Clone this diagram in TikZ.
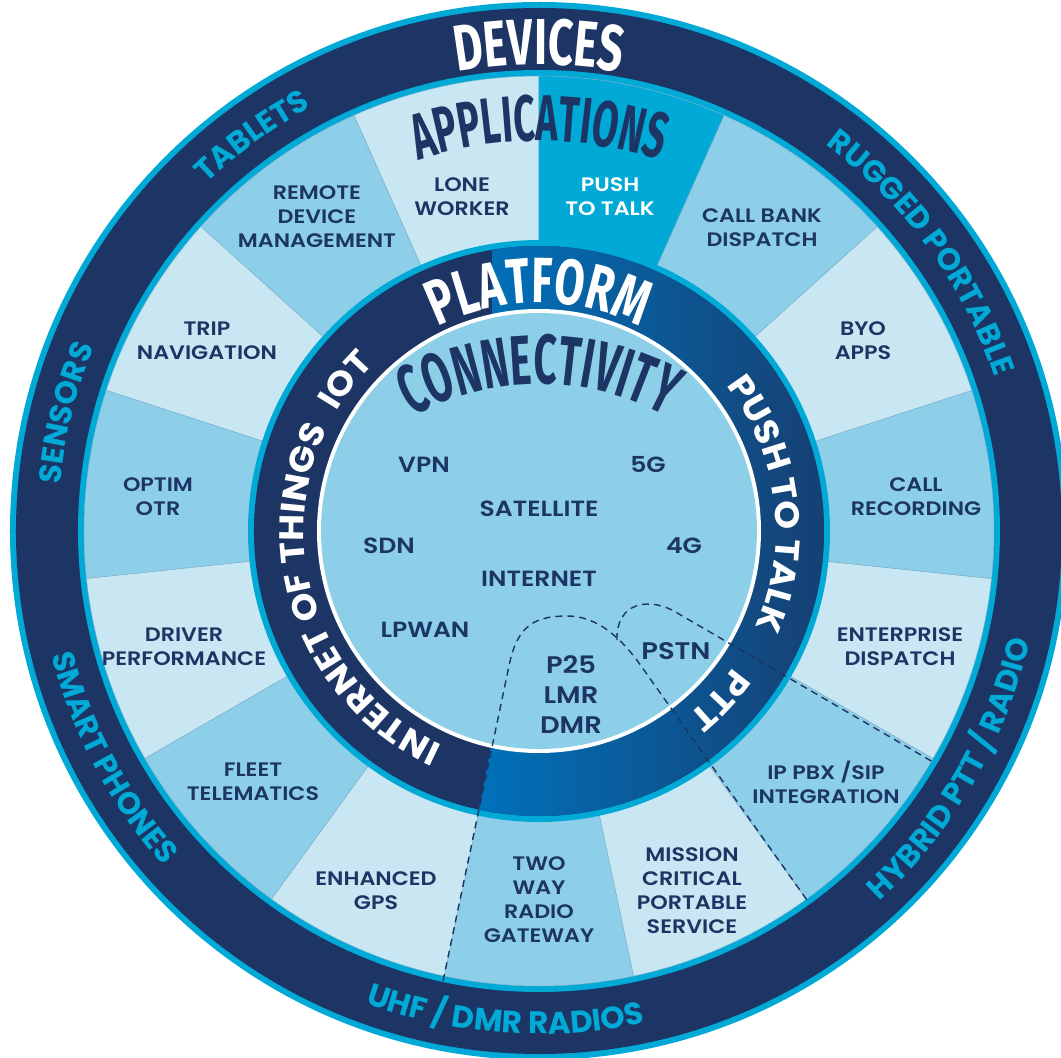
\documentclass[tikz,border=0pt]{standalone}
\usepackage{fontspec}
\setmainfont{Poppins}[UprightFont=* SemiBold, BoldFont=* Bold, FakeStretch=1.14]
\newfontfamily\ringfamily{Poppins}[UprightFont=* Bold]
\newfontfamily\platfamily{Poppins}[UprightFont=* Bold, FakeStretch=1.08]
\newfontfamily\dispfont{Fira Sans}[FakeStretch=0.68]
\newfontfamily\dispnarrow{Fira Sans}[FakeStretch=0.58]
\usetikzlibrary{decorations.text}

\definecolor{navy}{HTML}{1C3564}
\definecolor{ringcyan}{HTML}{00A9D6}
\definecolor{seglight}{HTML}{C9E7F3}
\definecolor{segmid}{HTML}{8DCFE9}
\definecolor{pltblue}{HTML}{0072BB}
\definecolor{pltdark}{HTML}{173E70}
\definecolor{segline}{HTML}{7FB2CE}

\newcommand\outerfont{\ringfamily\fontsize{31}{31}\selectfont}
\newcommand\platfont{\platfamily\fontsize{34}{34}\selectfont}
\newcommand\titlefont[1]{\dispfont\bfseries\fontsize{#1}{#1}\selectfont}
\newcommand\narrowfont[1]{\dispnarrow\bfseries\fontsize{#1}{#1}\selectfont}

\tikzset{
  seg label/.style={text=navy, align=center, font=\fontsize{19.5}{24}\selectfont},
  conn label/.style={text=navy, align=center, font=\fontsize{22}{24}\selectfont},
  big label/.style={text=navy, align=center, font=\fontsize{24}{30}\selectfont},
  sector/.style={draw=segline, line width=0.5pt},
  link/.style={navy, line width=1.4pt, dash pattern=on 7pt off 5pt},
}

\begin{document}
\begin{tikzpicture}[x=1pt, y=1pt]
  \useasboundingbox (-539,-527) rectangle (522,531);

  % devices ring
  \fill[ringcyan] (0,0) circle[radius=529];
  \fill[navy] (0,0) circle[radius=523];
  \fill[ringcyan] (0,0) circle[radius=461];

  % application sectors
  \foreach \a/\col in {90/seglight,114/segmid,138/seglight,162/segmid,186/seglight,
      210/segmid,234/seglight,258/segmid,282/seglight,306/segmid,330/seglight,
      354/segmid,378/seglight,402/segmid,426/ringcyan}
    \filldraw[fill=\col, sector] (0,0) -- (\a:455) arc[start angle=\a, end angle=\a+24, radius=455] -- cycle;

  % platform ring
  \fill[ringcyan] (0,0) circle[radius=291];
  \fill[navy] (0,0) circle[radius=285];
  \begin{scope}
    \clip (0,0) circle[radius=285];
    \shade[left color=pltblue, middle color=pltblue!85!pltdark, right color=pltdark]
      (-47,300) -- (-47,-210) -- (-64,-300) -- (300,-300) -- (300,300) -- cycle;
  \end{scope}
  \fill[white] (0,0) circle[radius=222];
  \fill[segmid] (0,0) circle[radius=218];

  % dashed links
  \draw[link] (-96,-450) -- (-30,-135) .. controls (-22,-95) and (-5,-85) .. (28,-85)
    .. controls (55,-85) and (78,-102) .. (100,-132) -- (270,-372);
  \draw[link] (78,-109) .. controls (77,-70) and (112,-65) .. (140,-83) -- (394,-231);

  % titles
  \path[decorate, decoration={text along path, text align=center, text color=white,
    text={|\titlefont{65}|DEVICES}}] (150:466) arc[start angle=150, end angle=30, radius=466];
  \path[decorate, decoration={text along path, text align=center, text color=navy,
    text={|\narrowfont{65}|APPLICATIONS}}] (130:390) arc[start angle=130, end angle=50, radius=390];
  \path[decorate, decoration={text along path, text align=center, text color=white,
    text={|\titlefont{64}|PLATFORM}}] (150:228) arc[start angle=150, end angle=30, radius=228];
  \path[decorate, decoration={text along path, text align=center, text color=navy,
    text={|\narrowfont{70}|CONNECTIVITY}}] (0,-115) ++(130:262) arc[start angle=130, end angle=50, radius=262];

  % device labels
  \path[decorate, decoration={text along path, text align=center, text color=ringcyan,
    text={|\outerfont|TABLETS}}] (166:481) arc[start angle=166, end angle=86, radius=481];
  \path[decorate, decoration={text along path, text align=center, text color=ringcyan,
    text={|\outerfont|SENSORS}}] (206:481) arc[start angle=206, end angle=126, radius=481];
  \path[decorate, decoration={text along path, text align=center, text color=ringcyan,
    text={|\outerfont|RUGGED PORTABLE}}] (76:481) arc[start angle=76, end angle=-4, radius=481];
  \path[decorate, decoration={text along path, text align=center, text color=ringcyan,
    text={|\outerfont|SMART PHONES}}] (168:503) arc[start angle=168, end angle=248, radius=503];
  \path[decorate, decoration={text along path, text align=center, text color=ringcyan,
    text={|\outerfont|UHF / DMR RADIOS}}] (226:503) arc[start angle=226, end angle=306, radius=503];
  \path[decorate, decoration={text along path, text align=center, text color=ringcyan,
    text={|\outerfont|HYBRID PTT / RADIO}}] (290:503) arc[start angle=290, end angle=370, radius=503];

  % platform labels
  \path[decorate, decoration={text along path, text align=center, text color=white,
    text={|\platfont|INTERNET OF THINGS}}] (260:235) arc[start angle=260, end angle=140, radius=235];
  \path[decorate, decoration={text along path, text align=center, text color=white,
    text={|\platfont|IOT}}] (172:235) arc[start angle=172, end angle=112, radius=235];
  \path[decorate, decoration={text along path, text align=center, text color=white,
    text={|\platfont|PUSH TO TALK}}] (57:237) arc[start angle=57, end angle=-43, radius=237];
  \path[decorate, decoration={text along path, text align=center, text color=white,
    text={|\platfont|PTT}}] (-13:237) arc[start angle=-13, end angle=-73, radius=237];

  % applications
  \node[seg label] (lone) at (-77,334) {LONE\\WORKER};
  \node[seg label, text=white] (pushtalk) at (71,334) {PUSH\\TO TALK};
  \node[seg label] (callbank) at (223,303) {CALL BANK\\DISPATCH};
  \node[seg label] (byo) at (324,190) {BYO\\APPS};
  \node[seg label] (callrec) at (377,34) {CALL\\RECORDING};
  \node[seg label] (enterprise) at (361,-116) {ENTERPRISE\\DISPATCH};
  \node[seg label] (ippbx) at (287,-251) {IP PBX /SIP\\INTEGRATION};
  \node[seg label] (mission) at (153,-360) {MISSION\\CRITICAL\\PORTABLE\\SERVICE};
  \node[seg label] (twoway) at (0,-369) {TWO\\WAY\\RADIO\\GATEWAY};
  \node[seg label] (gps) at (-163,-360) {ENHANCED\\GPS};
  \node[seg label] (fleet) at (-286,-251) {FLEET\\TELEMATICS};
  \node[seg label] (driver) at (-355,-116) {DRIVER\\PERFORMANCE};
  \node[seg label] (optim) at (-381,34) {OPTIM\\OTR};
  \node[seg label] (trip) at (-332,190) {TRIP\\NAVIGATION};
  \node[seg label] (remote) at (-222,314) {REMOTE\\DEVICE\\MANAGEMENT};

  % connectivity
  \node[conn label] (vpn) at (-115,66) {VPN};
  \node[conn label] (fiveg) at (109,66) {5G};
  \node[conn label] (satellite) at (0,22) {SATELLITE};
  \node[conn label] (sdn) at (-150,-15) {SDN};
  \node[conn label] (fourg) at (145,-15) {4G};
  \node[conn label] (internet) at (0,-48) {INTERNET};
  \node[conn label] (lpwan) at (-114,-99) {LPWAN};
  \node[big label] (pstn) at (137,-120) {PSTN};
  \node[big label] (radio) at (32,-164) {P25\\LMR\\DMR};
\end{tikzpicture}
\end{document}
